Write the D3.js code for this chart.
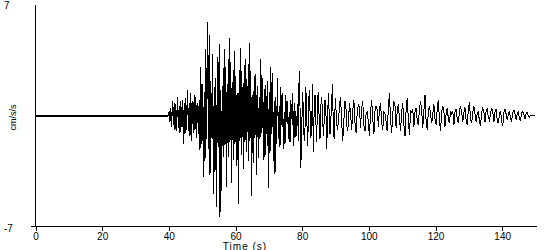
<!DOCTYPE html>
<html>
<head>
<meta charset="utf-8">
<script src="https://cdn.jsdelivr.net/npm/d3@7"></script>
<style>
  body { margin: 0; background: #fff; }
  svg { display: block; font-family: "Liberation Sans", Arial, sans-serif; }
  .trace { fill: none; stroke: #000; stroke-width: 1; shape-rendering: crispEdges; }
  .trace--quiet { stroke-width: 2; }
  .axis path, .axis line { stroke: #000; shape-rendering: crispEdges; }
  .axis text { fill: #000; font-size: 10px; }
</style>
</head>
<body>
<svg id="chart" width="550" height="250"></svg>
<script>
// acceleration record, cm/s/s in three pieces
const xTicks = [0, 20, 40, 60, 80, 100, 120, 140]
const yLabels = ['7', '-7']

// 0 - 40 s, one sample every 5 s: flat before the arrival
const quietStart = 0
const quietStep = 5
const quiet = [0, 0, 0, 0, 0, 0, 0, 0, 0]

// 40 - 90 s, four samples per second: strong motion
const strongStart = 40
const strongStep = 0.25
const strong = [
    0, 0.3, -0.4, 0.5,
    -0.7, 0.9, -0.6, 0.8,
    -0.9, 0.7, -1.0, 1.2,
    -0.8, 0.6, -1.1, 0.9,
    -0.7, 1.0, -1.8, 0.8,
    -1.2, 1.1, -0.9, 1.6,
    -1.0, 0.8, -1.3, 1.4,
    -1.6, 0.9, -1.1, 1.3,
    -0.9, 1.2, -1.4, 0.8,
    -1.2, 1.0, -2.2, 3.1,
    -1.8, 2.0, -3.9, 1.5,
    -2.9, 4.2, -1.5, 5.9,
    -2.1, 5.1, -3.8, 2.2,
    -1.4, 3.9, -5.0, 1.8,
    -3.6, 2.4, -5.8, 3.7,
    -2.0, 4.5, -6.4, 1.6,
    -4.8, 1.9, -2.6, 4.2,
    -1.9, 3.1, -4.5, 2.0,
    -2.6, 4.9, -1.7, 3.4,
    -4.3, 2.1, -2.8, 4.1,
    -1.8, 2.5, -3.2, 1.4,
    -5.6, 2.9, -1.6, 4.3,
    -2.5, 1.8, -3.4, 3.2,
    -1.7, 3.6, -2.3, 1.9,
    -2.9, 4.6, -1.6, 2.8,
    -5.1, 1.3, -3.0, 2.5,
    -1.4, 2.6, -3.8, 1.9,
    -2.7, 1.2, -1.5, 3.6,
    -1.1, 2.4, -2.8, 1.7,
    -2.6, 1.9, -1.2, 2.2,
    -4.6, 1.5, -2.4, 3.1,
    -1.2, 2.7, -2.9, 0.9,
    -3.7, 1.2, -1.8, 2.4,
    -1.5, 0.6, -2.0, 1.8,
    -0.6, 1.4, -2.1, 0.2,
    -1.8, 1.3, -0.4, 0.9,
    -1.5, 0.2, -1.7, 1.0,
    -0.2, 1.4, -1.9, 0.8,
    -1.4, 0.3, -1.3, 0.7,
    -1.6, 2.8, 0.6, -3.3,
    -1.2, 1.5, 0.4, -1.6,
    -0.8, 1.8, 0.2, -1.9,
    -0.5, 1.6, 0.3, -1.4,
    -0.9, 2.0, -2.3, 0.4,
    1.3, -0.3, -1.7, 0.9,
    1.5, -0.2, -1.5, 0.6,
    1.2, 0.1, -1.3, -0.4,
    1.0, 0.5, -2.1, -0.6,
    1.4, 0.2, -1.2, -0.3,
    0.9, 2.0, -0.8, -1.5,
    0.4
]

// 90 - 150 s, three samples per second: coda
const codaStart = 90
const codaStep = 1 / 3
const coda = [
    1.1, 0.3, -0.9, -0.5,
    0.6, 1.2, -0.4, -1.6,
    -0.3, 0.9, 0.4, -1.0,
    -0.6, 0.8, 0.2, -0.9,
    0.3, 1.0, -0.5, -1.1,
    0.2, 0.7, 0.5, -0.8,
    0.5, 0.9, -0.6, -1.0,
    0.1, 0.2, -0.4, -1.3,
    0.2, 1.0, -0.2, -1.2,
    0.3, 0.6, 0.4, -0.7,
    0.4, 0.8, -0.5, -0.9,
    0.2, 0.1, -0.4, -1.0,
    0.5, 1.4, -0.3, -1.1,
    0.1, 0.9, 0.6, -0.8,
    0.3, 0.7, -0.2, -1.0,
    0.2, 0.8, -0.6, -1.3,
    0.4, 1.1, -0.2, -1.25,
    0.3, 0.2, 0.4, -0.7,
    0.2, 0.5, -0.3, -0.6,
    0.4, 0.9, 0.3, -0.8,
    0.3, 1.3, -0.4, -0.9,
    0.2, 0.6, 0.1, -0.5,
    0.1, 0.7, -0.2, -0.6,
    0.4, 1.0, -0.3, -1.0,
    0.2, 0.6, 0.3, -0.7,
    0.1, 0.5, -0.2, -0.5,
    0.3, 0.1, 0.3, -0.6,
    0.2, 0.4, -0.2, -0.5,
    0.3, 0.6, 0.2, -0.4,
    0.2, 0.5, -0.3, -0.6,
    0.4, 0.85, -0.2, -0.5,
    0.2, 0.6, 0.1, -0.4,
    0.1, 0.3, -0.4, -0.65,
    0.2, 0.5, 0.2, -0.4,
    0.3, 0.4, -0.1, -0.3,
    0.1, 0.5, 0.2, -0.4,
    0.2, 0.4, -0.3, -0.5,
    0.1, 0.3, -0.4, -0.65,
    0.2, 0.4, 0.1, -0.3,
    0.1, 0.3, -0.2, -0.35,
    0.2, 0.35, 0.1, -0.25,
    0.1, 0.3, -0.2, -0.3,
    0.15, 0.25, 0.05, -0.2,
    0.1, 0.2, -0.05, -0.1,
    0, 0, 0, 0,
    0
]

const pieces = [
    {start: quietStart, step: quietStep, values: quiet, cls: 'trace trace--quiet'},
    {start: strongStart, step: strongStep, values: strong, cls: 'trace'},
    {start: codaStart, step: codaStep, values: coda, cls: 'trace'}
]

const svg = d3.select('#chart')
const x = d3.scaleLinear().domain([0, 150]).range([35, 535])
const y = d3.scaleLinear().domain([-7, 7]).range([226, 5])

// y axis line, no ticks except the bottom one shared with the x axis
svg.append('line')
    .attr('x1', x(0) + 0.5).attr('x2', x(0) + 0.5)
    .attr('y1', y(7)).attr('y2', y(-7))
    .attr('stroke', '#000')
    .attr('shape-rendering', 'crispEdges')

const xAxis = svg.append('g')
    .attr('class', 'axis')
    .attr('transform', `translate(0.5,${y(-7) + 0.5})`)
    .call(d3.axisBottom(x).tickValues(xTicks).tickSize(4).tickPadding(2).tickSizeOuter(0))
xAxis.select('.domain').remove()
xAxis.append('line')
    .attr('x1', x(0) - 5).attr('x2', x(150) + 1)
    .attr('stroke', '#000')

const line = d3.line().x((d) => x(d.t)).y((d) => y(d.v))

// each piece joins the last sample of the one before it
let last = null
pieces.forEach((p) => {
    const pts = p.values.map((v, i) => ({t: p.start + i * p.step, v: v}))
    if (last) pts.unshift(last)
    last = pts[pts.length - 1]
    svg.append('path')
        .datum(pts)
        .attr('class', p.cls)
        .attr('d', line)
})

svg.selectAll('.ylab')
    .data(yLabels)
    .enter().append('text')
        .attr('class', 'ylab')
        .attr('x', 4)
        .attr('y', (d) => y(+d) + (+d > 0 ? 4 : 6))
        .attr('font-size', 10)
        .text((d) => d)

svg.append('text')
    .attr('transform', `translate(16,${y(0) + 2}) rotate(-90)`)
    .attr('text-anchor', 'middle')
    .attr('font-size', 9)
    .text('cm/s/s')

svg.append('text')
    .attr('x', 245)
    .attr('y', 250)
    .attr('text-anchor', 'middle')
    .attr('font-size', 10)
    .attr('letter-spacing', 1)
    .text('Time (s)')
</script>
</body>
</html>
